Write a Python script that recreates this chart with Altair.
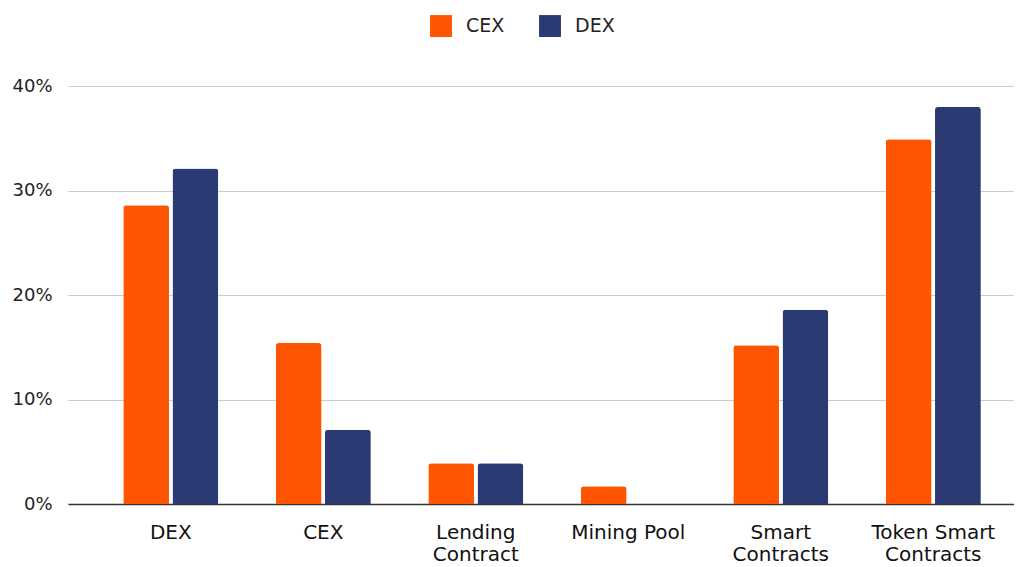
import altair as alt
import pandas as pd

categories = ["DEX", "CEX", "Lending Contract", "Mining Pool", "Smart Contracts", "Token Smart Contracts"]
cex_values = [0.286, 0.154, 0.039, 0.017, 0.152, 0.349]
dex_values = [0.321, 0.071, 0.039, 0.0, 0.186, 0.380]
series = ["CEX", "DEX"]
colors = ["#FF5500", "#2B3A73"]

rows = []
for c, a, b in zip(categories, cex_values, dex_values):
    rows.append({"category": c, "series": "CEX", "value": a})
    rows.append({"category": c, "series": "DEX", "value": b})
df = pd.DataFrame(rows)

label_expr = ("datum.label == 'Mining Pool' ? datum.label : "
              "datum.label == 'Token Smart Contracts' ? ['Token Smart', 'Contracts'] : "
              "split(datum.label, ' ')")

FONT = "DejaVu Sans"

chart = alt.Chart(df).mark_bar(cornerRadiusTopLeft=3, cornerRadiusTopRight=3).encode(
    x=alt.X("category:N", sort=categories, title=None,
            scale=alt.Scale(paddingInner=0.377, paddingOuter=0.29, align=0.625, round=False),
            axis=alt.Axis(labelAngle=0, labelExpr=label_expr, labelFontSize=20,
                          labelFont=FONT, labelColor="#111", labelPadding=28,
                          labelLineHeight=22, ticks=False, domainColor="#333",
                          domainWidth=1.5, grid=False, labelBaseline="middle")),
    xOffset=alt.XOffset("series:N", sort=series,
                        scale=alt.Scale(paddingInner=0.069, paddingOuter=0)),
    y=alt.Y("value:Q", title=None,
            scale=alt.Scale(domain=[0, 0.4], nice=False),
            axis=alt.Axis(format=".0%", values=[0, 0.1, 0.2, 0.3, 0.4], labelFontSize=18,
                          labelFont=FONT, labelColor="#222", labelPadding=16,
                          ticks=False, domain=False, gridColor="#cccccc", gridWidth=1)),
    color=alt.Color("series:N", sort=series,
                    scale=alt.Scale(domain=series, range=colors),
                    legend=alt.Legend(title=None, orient="none", direction="horizontal",
                                      legendX=362, legendY=-71, symbolType="square",
                                      symbolSize=480, symbolStrokeWidth=0,
                                      labelFontSize=19, labelFont=FONT, labelColor="#222",
                                      labelOffset=14, columnPadding=34)),
).properties(
    width=946, height=418,
    autosize=alt.AutoSizeParams(type="none"),
    padding={"left": 60, "top": 78, "right": 0, "bottom": 62},
).configure_view(stroke=None)

chart.save("out.html", embed_options={"renderer": "svg", "actions": False})
